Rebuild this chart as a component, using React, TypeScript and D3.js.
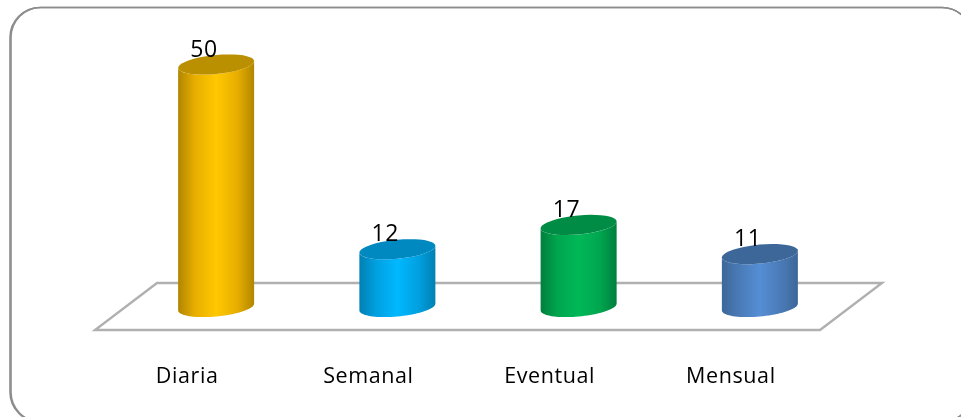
import React from "react";
import * as d3 from "d3";

const categories = ["Diaria", "Semanal", "Eventual", "Mensual"];
const values = [50, 12, 17, 11];
const sideDark = ["#b08600", "#0080b4", "#007f3c", "#3d6799"];
const sideMid = ["#e8ae00", "#00a0e0", "#00a64f", "#4a7ab6"];
const sideLight = ["#ffc800", "#00b8ff", "#00b858", "#558ed5"];
const topColors = ["#bb9000", "#0088c0", "#008c44", "#3c6699"];

const W = 961;
const H = 417;
const RX = 38;
const RY = 9.5;
const TILT = -0.09;

function ellipsePoints(cx: number, cy: number, from: number, to: number): [number, number][] {
  return d3.range(0, 41).map((i) => {
    const t = from + ((to - from) * i) / 40;
    const dx = RX * Math.cos(t);
    return [cx + dx, cy + RY * Math.sin(t) + TILT * dx] as [number, number];
  });
}

export default function App() {
  const x = d3.scaleBand<string>().domain(categories).range([125.5, 850.5]);
  const y = d3.scaleLinear().domain([0, 50]).range([307.6, 64.5]);
  const line = d3.line();
  const baseY = y(0) - 0.6;
  const floor: [number, number][] = [[157, 283], [882, 283], [820, 330], [95, 330]];

  return (
    <svg
      width={W}
      height={H}
      style={{ position: "absolute", left: 0, top: 0, display: "block" }}
      fontFamily="'Open Sans', Lato, sans-serif"
    >
      <defs>
        <filter id="soft" x="-5%" y="-5%" width="110%" height="110%">
          <feGaussianBlur stdDeviation="0.5" />
        </filter>
        <filter id="softText" x="-10%" y="-10%" width="120%" height="120%">
          <feGaussianBlur stdDeviation="0.3" />
        </filter>
        {categories.map((c, i) => (
          <linearGradient key={c} id={`side-${i}`} x1="0" x2="1" y1="0" y2="0">
            <stop offset="0" stopColor={sideDark[i]} />
            <stop offset="0.22" stopColor={sideMid[i]} />
            <stop offset="0.5" stopColor={sideLight[i]} />
            <stop offset="0.78" stopColor={sideMid[i]} />
            <stop offset="1" stopColor={sideDark[i]} />
          </linearGradient>
        ))}
      </defs>
      <rect width={W} height={H} fill="#fff" />
      <rect x={10} y={7.5} width={962} height={414.5} rx={30} fill="none" stroke="#8c8c8c" strokeWidth={1.6} />
      <rect x={11} y={7.5} width={961} height={414.5} rx={30} fill="none" stroke="#8c8c8c" strokeWidth={1.6} />
      <g filter="url(#soft)">
        <path d={line(floor) + "Z"} fill="#fff" stroke="#b0b0b0" strokeWidth={2.4} />
        {categories.map((c, i) => {
          const cx = (x(c) as number) + x.bandwidth() / 2;
          const topY = y(values[i]);
          const side = [
            ...ellipsePoints(cx, topY, Math.PI, 0),
            ...ellipsePoints(cx, baseY, 0, Math.PI),
          ] as [number, number][];
          return (
            <g key={c}>
              <path d={line(side) + "Z"} fill={`url(#side-${i})`} />
              <path d={line(ellipsePoints(cx, topY, 0, Math.PI * 2)) + "Z"} fill={topColors[i]} />
            </g>
          );
        })}
      </g>
      <g filter="url(#softText)">
        {categories.map((c, i) => {
          const cx = (x(c) as number) + x.bandwidth() / 2;
          const topY = y(values[i]);
          return (
            <g key={c}>
              <text x={cx - 12} y={topY - 8} textAnchor="middle" fontSize={23} letterSpacing={0.6} fill="#000">
                {values[i]}
              </text>
              <text x={cx - 29} y={383} textAnchor="middle" fontSize={21.5} letterSpacing={0.6} fill="#000">
                {c}
              </text>
            </g>
          );
        })}
      </g>
    </svg>
  );
}
